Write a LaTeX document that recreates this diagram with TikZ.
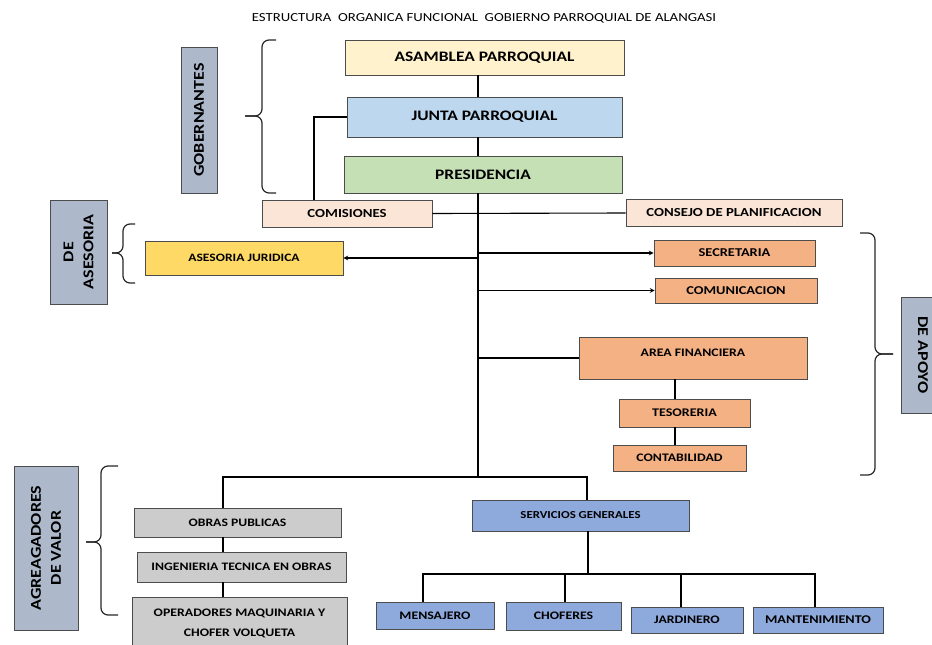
\documentclass[tikz,border=0pt]{standalone}
\usepackage{fontspec}
\setmainfont{Carlito}[FakeStretch=1.2]

\definecolor{asambleacol}{HTML}{FFF2CC}
\definecolor{juntacol}{HTML}{BDD7EE}
\definecolor{presidcol}{HTML}{C5E0B4}
\definecolor{comisioncol}{HTML}{FBE5D6}
\definecolor{juridicacol}{HTML}{FFD966}
\definecolor{apoyocol}{HTML}{F4B183}
\definecolor{obrascol}{HTML}{CCCCCC}
\definecolor{servcol}{HTML}{8EA9DB}
\definecolor{nivelcol}{HTML}{ADB9CA}

\newcommand{\fs}[1]{\fontsize{#1}{#1}\selectfont\bfseries}

\begin{document}
\begin{tikzpicture}[x=1pt, y=-1pt, >=stealth,
    box/.style={draw=black!70, line width=0.8pt, inner sep=0pt, align=center},
    nivel/.style={box, fill=nivelcol},
    link/.style={draw=black, line width=1.1pt},
    llave/.style={draw=black!85, line width=1.2pt, rounded corners=7pt}]
    \useasboundingbox (0,0) rectangle (932,645);
    \clip (0,0) rectangle (932,645);

    % titulo
    \node (titulo) at (484,18) {\fontsize{12.3}{12.3}\selectfont ESTRUCTURA\ \ ORGANICA FUNCIONAL\ \ GOBIERNO PARROQUIAL DE ALANGASI};

    % gobernantes
    \node[box, fill=asambleacol, minimum width=279, minimum height=35, font=\fs{14.5}] (asamblea) at (484.5,57.5) {ASAMBLEA PARROQUIAL};
    \node[box, fill=juntacol, minimum width=275, minimum height=40, font=\fs{14.5}] (junta) at (484.5,117) {JUNTA PARROQUIAL};
    \node[box, fill=presidcol, minimum width=278, minimum height=37, font=\fs{14.5}] (presid) at (483,174.5) {PRESIDENCIA};
    \node[box, fill=comisioncol, minimum width=170, minimum height=27, font=\fs{12.3}] (comisiones) at (347,213.5) {COMISIONES};
    \node[box, fill=comisioncol, minimum width=216, minimum height=27, font=\fs{12.3}] (consejo) at (734,213) {CONSEJO DE PLANIFICACION};

    % asesoria y apoyo
    \node[box, fill=juridicacol, minimum width=198, minimum height=34, font=\fs{11.3}] (juridica) at (244,258) {ASESORIA JURIDICA};
    \node[box, fill=apoyocol, minimum width=161, minimum height=26, font=\fs{12}] (secretaria) at (734.5,253) {SECRETARIA};
    \node[box, fill=apoyocol, minimum width=162, minimum height=25, font=\fs{12}] (comunicacion) at (736,290.5) {COMUNICACION};
    \node[box, fill=apoyocol, minimum width=228, inner ysep=3pt, text height=16pt, text depth=20pt, font=\fs{11.5}] (areafin) at (693,358) {AREA FINANCIERA};
    \node[box, fill=apoyocol, minimum width=131, minimum height=28, font=\fs{11.7}] (tesoreria) at (684.5,413) {TESORERIA};
    \node[box, fill=apoyocol, minimum width=133, minimum height=26, font=\fs{11.5}] (contabilidad) at (679.5,458) {CONTABILIDAD};

    % agregadores de valor
    \node[box, fill=obrascol, minimum width=207, minimum height=29, font=\fs{11.4}] (obras) at (237.5,522.5) {OBRAS PUBLICAS};
    \node[box, fill=obrascol, minimum width=209, minimum height=30, font=\fs{11.4}] (ingenieria) at (241.5,567) {INGENIERIA TECNICA EN OBRAS};
    \node[box, fill=obrascol, minimum width=215, minimum height=52, font={\fontsize{11.5}{20}\selectfont\bfseries}] (operadores) at (239.5,623) {OPERADORES MAQUINARIA Y\\CHOFER VOLQUETA};
    \node[box, fill=servcol, minimum width=217, minimum height=31, font=\fs{10.7}] (servicios) at (580.5,515.5) {SERVICIOS GENERALES};
    \node[box, fill=servcol, minimum width=118, minimum height=27, font=\fs{11.5}] (mensajero) at (435,615.5) {MENSAJERO};
    \node[box, fill=servcol, minimum width=115, minimum height=28, font=\fs{11.5}] (choferes) at (563.5,616) {CHOFERES};
    \node[box, fill=servcol, minimum width=112, minimum height=26, font=\fs{11.5}] (jardinero) at (687,620) {JARDINERO};
    \node[box, fill=servcol, minimum width=130, minimum height=26, font=\fs{11.8}] (mantenimiento) at (818,620) {MANTENIMIENTO};

    % etiquetas de nivel
    \node[nivel, rotate=90, minimum width=146, minimum height=36, font=\fs{15}] (gobernantes) at (199,120) {GOBERNANTES};
    \node[nivel, rotate=90, minimum width=104, minimum height=57, font={\fontsize{15}{20}\selectfont\bfseries}] (deasesoria) at (78.5,252) {DE\\ASESORIA};
    \node[nivel, rotate=-90, minimum width=116, minimum height=44, font=\fs{15}] (deapoyo) at (923,355) {DE APOYO};
    \node[nivel, rotate=90, minimum width=164, minimum height=64, font={\fontsize{15}{20}\selectfont\bfseries}] (agregadores) at (46,548) {AGREAGADORES\\DE VALOR};

    % tronco
    \coordinate (tb) at (478,477);
    \coordinate (lb) at (223,477);
    \coordinate (rb) at (587,477);
    \coordinate (sb) at (588,574);

    \draw[link] (asamblea.south -| tb) -- (junta.north -| tb);
    \draw[link] (junta.south -| tb) -- (presid.north -| tb);
    \draw[link] (presid.south -| tb) -- (tb);
    \draw[link] (junta.west) -| ([xshift=-33pt]comisiones.north);
    \draw[link] (comisiones.east) -- (consejo.west);

    \draw[link, ->] (tb |- juridica.east) -- (juridica.east);
    \draw[link, ->] (tb |- secretaria.west) -- (secretaria.west);
    \draw[link, ->] (tb |- comunicacion.west) -- (comunicacion.west);
    \draw[link] (tb |- areafin.west) -- (areafin.west);
    \draw[link] ([xshift=-18pt]areafin.south) -- ([xshift=-18pt]areafin.south |- tesoreria.north);
    \draw[link] ([xshift=-9.5pt]tesoreria.south) -- ([xshift=-9.5pt]tesoreria.south |- contabilidad.north);

    \draw[link] (lb |- obras.north) -- (lb) -- (rb) -- (rb |- servicios.north);
    \draw[link] (lb |- obras.south) -- (lb |- ingenieria.north);
    \draw[link] (lb |- ingenieria.south) -- (lb |- operadores.north);
    \draw[link] (servicios.south -| sb) -- (sb);
    \foreach \n/\dx in {mensajero/-12, choferes/1.5, jardinero/-6, mantenimiento/-3}
        \draw[link] ([xshift=\dx pt]\n.north) |- (sb);

    % llaves: extremo, cuerpo, punta, arriba, medio, abajo
    \foreach \xe/\xc/\xp/\ya/\ym/\yb in {276/262/245/40/116/193, 135/123/112/224/253/283,
                                         860/875/893/233/354/475, 118/101/86/466/542/615}
    {
        \draw[llave] (\xe,\ya) -- (\xc,\ya) -- (\xc,\ym) -- (\xp,\ym);
        \draw[llave] (\xe,\yb) -- (\xc,\yb) -- (\xc,\ym) -- (\xp,\ym);
    }
\end{tikzpicture}
\end{document}
